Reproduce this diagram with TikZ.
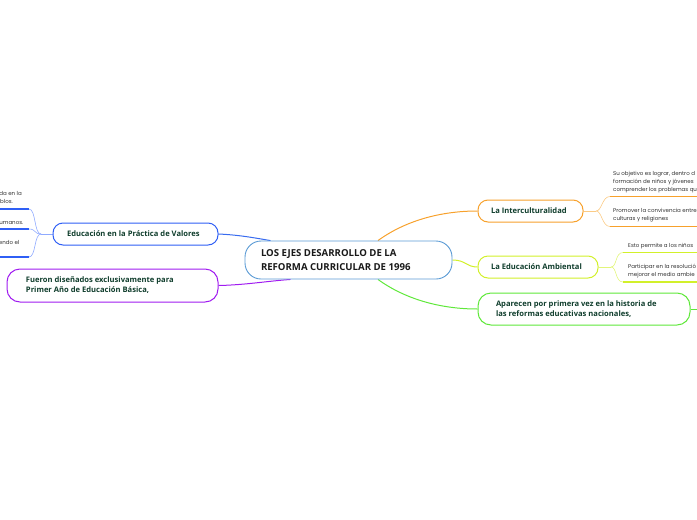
\documentclass[tikz,border=0pt]{standalone}
\usepackage{fontspec}
\setmainfont{Open Sans}
\newfontfamily\smallfont{Poppins}
\usetikzlibrary{backgrounds}
\definecolor{txt}{HTML}{0F3D2C}
\definecolor{small}{HTML}{333333}
\definecolor{cblue}{HTML}{5B9BD5}
\definecolor{eblue}{HTML}{2F5FF5}
\definecolor{lblue}{HTML}{8FAAFF}
\definecolor{purp}{HTML}{A01CF0}
\definecolor{orng}{HTML}{F7A12C}
\definecolor{lorng}{HTML}{FBCB85}
\definecolor{ylw}{HTML}{D2F02A}
\definecolor{lylw}{HTML}{E2F57A}
\definecolor{grn}{HTML}{5FE83A}
\tikzset{
  topic/.style={draw, fill=white, rounded corners=10pt, line width=1pt, align=flush left,
     text=txt, font=\bfseries\fontsize{7.6}{10}\selectfont, inner ysep=0pt},
  conn/.style={line width=1pt},
  sub/.style={line width=0.6pt},
  uline/.style={line width=1.2pt},
  stext/.style={text=small, font=\smallfont\fontsize{5.5}{8}\selectfont, inner sep=0pt},
  sl/.style={stext, anchor=base west},
  sr/.style={stext, anchor=base east}
}
\begin{document}
\begin{tikzpicture}[x=1pt,y=-1pt]
\useasboundingbox (0,0) rectangle (697,520);
% central
\node[topic, draw=cblue, rounded corners=16pt, line width=0.9pt, text=black!90,
  font=\bfseries\fontsize{9.6}{13.5}\selectfont, inner xsep=16pt, text width=175pt,
  minimum height=38pt] (c) at (348.5,260) {LOS EJES DESARROLLO DE LA\\REFORMA CURRICULAR DE 1996};
% left
\node[topic, draw=eblue, inner xsep=14pt, text width=137pt, minimum height=22pt] (ed) at (135.5,234)
  {Educación en la Práctica de Valores};
\node[topic, draw=purp, rounded corners=13pt, inner xsep=19pt, text width=173pt, minimum height=33pt] (fu) at (112.5,285.5)
  {Fueron diseñados exclusivamente para\\Primer Año de Educación Básica,};
% right
\node[topic, draw=orng, inner xsep=13pt, text width=79pt, minimum height=22pt] (in) at (530.5,211)
  {La Interculturalidad};
\node[topic, draw=ylw, inner xsep=13pt, text width=94pt, minimum height=22pt] (am) at (538,267)
  {La Educación Ambiental};
\node[topic, draw=grn, rounded corners=13pt, inner xsep=18pt, text width=176pt, minimum height=32pt] (ap) at (584,309)
  {Aparecen por primera vez en la historia de\\las reformas educativas nacionales,};
% small texts left
\node[sr] (t1a) at (22,195.5) {da en la};
\node[sr] (t1b) at (13,203.5) {blos.};
\node[sr] (t2) at (23.5,224) {umanos.};
\node[sr] (t3) at (19.5,244) {endo el};
% small texts right
\node[sl] (r1a) at (613,175) {Su objetivo es lograr, dentro d};
\node[sl] (r1b) at (613,183) {formación de niños y jóvenes};
\node[sl] (r1c) at (613,191) {comprender los problemas qu};
\node[sl] (r2a) at (613,212) {Promover la convivencia entre};
\node[sl] (r2b) at (613,220) {culturas y religiones};
\node[sl] (y1) at (628,247) {Esto permite a los niños};
\node[sl] (y2a) at (628,268) {Participar en la resolució};
\node[sl] (y2b) at (628,276) {mejorar el medio ambie};
% coordinates
\coordinate (lj) at (41,234);
\coordinate (l1) at (29,209); \coordinate (l1e) at (-2,209);
\coordinate (l2) at (29,229); \coordinate (l2e) at (-2,229);
\coordinate (l3) at (29,257); \coordinate (l3e) at (-2,257);
\coordinate (rj) at (596,211);
\coordinate (o1) at (610,196.5); \coordinate (o1e) at (700,196.5);
\coordinate (o2) at (610,226.5); \coordinate (o2e) at (700,226.5);
\coordinate (yj) at (611,267);
\coordinate (g1) at (623,252.5); \coordinate (g1e) at (700,252.5);
\coordinate (g2) at (623,282); \coordinate (g2e) at (700,282);
\coordinate (apx) at (700,309);
\begin{scope}[on background layer]
\draw[conn, orng] ([xshift=29.5pt]c.north) .. controls (405,221) and (440,211) .. (in.west);
\draw[conn, grn] ([xshift=29.5pt]c.south) .. controls (405,299) and (440,309) .. (ap.west);
\draw[conn, ylw] (c.east) .. controls (466,260) and (466,267) .. (am.west);
\draw[conn, eblue!80!cblue] (ed.east) .. controls (240,235) and (255,238) .. ([xshift=-78pt]c.north);
\draw[conn, purp] (fu.east) .. controls (245,285) and (268,281) .. ([xshift=-58pt]c.south);
\draw[conn, grn] (ap.east) -- (apx);
% left subs
\draw[sub, lblue] (ed.west) -- (lj);
\draw[sub, lblue] (lj) .. controls (34,234) and (36,209) .. (l1);
\draw[sub, lblue] (lj) .. controls (34,234) and (36,229) .. (l2);
\draw[sub, lblue] (lj) .. controls (34,234) and (36,257) .. (l3);
\draw[uline, eblue] (l1) -- (l1e);
\draw[uline, eblue] (l2) -- (l2e);
\draw[uline, eblue] (l3) -- (l3e);
% orange subs
\draw[sub, lorng] (in.east) -- (rj);
\draw[sub, lorng] (rj) .. controls (602,211) and (602,196.5) .. (o1);
\draw[sub, lorng] (rj) .. controls (602,211) and (602,226.5) .. (o2);
\draw[uline, orng] (o1) -- (o1e);
\draw[uline, orng] (o2) -- (o2e);
% yellow subs
\draw[sub, lylw] (am.east) -- (yj);
\draw[sub, lylw] (yj) .. controls (617,267) and (615,252.5) .. (g1);
\draw[sub, lylw] (yj) .. controls (617,267) and (615,282) .. (g2);
\draw[uline, ylw] (g1) -- (g1e);
\draw[uline, ylw] (g2) -- (g2e);
\end{scope}
\end{tikzpicture}
\end{document}
